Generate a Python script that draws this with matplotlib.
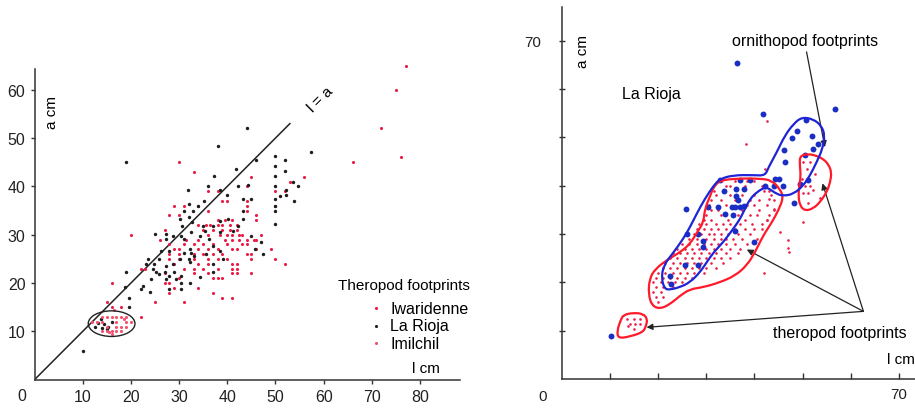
import numpy as np
import matplotlib
matplotlib.use("Agg")
import matplotlib.pyplot as plt
from matplotlib.patches import Ellipse, PathPatch
from matplotlib.path import Path

plt.rcParams['font.family'] = ['Liberation Sans', 'DejaVu Sans']

# --- left panel: footprint length l vs width a (cm) ---
iwar_l = [30, 33, 36, 38, 39, 40, 45, 44, 44, 44, 44, 46, 46, 29, 31, 34, 30, 28, 36, 38, 39.5, 41,
          34, 35.5, 36.5, 38, 39, 40.5, 42, 35, 37, 39, 40.5, 42, 36, 38.5, 40, 41, 42.5, 43, 47,
          31.5, 34, 39.5, 41, 42.5, 44, 45.5, 28, 31, 33, 35, 37, 40, 43, 44, 46,
          29, 30, 34, 36, 38, 41, 42, 46, 49, 28, 30, 33, 35, 37, 39, 44, 45,
          28, 30, 33, 36, 38, 40, 45, 50, 29, 34, 36, 41, 42, 52,
          22, 23, 31, 33, 35, 38, 41, 42, 27, 33, 36, 41, 42, 45, 30, 37, 38, 39,
          16, 27, 28, 34, 29, 28, 37, 39, 41, 25, 31, 15, 16, 18, 22, 20, 26, 27,
          53, 56, 50, 50, 52, 66, 72, 75, 76, 77]
iwar_a = [45, 43, 39, 39, 37, 37, 42, 40, 37, 36, 35, 34, 33, 36, 36, 36, 34, 34, 35, 33, 33, 33,
          32, 32, 32, 32, 32, 32, 32, 31, 31, 31, 31, 31, 30, 30, 30, 30, 30, 30, 30,
          29, 29, 29, 29, 29, 29, 29, 28, 28, 28, 28, 28, 28, 28, 28, 29,
          27, 27, 27, 27, 27, 27, 27, 27, 27, 26, 26, 26, 26, 26, 26, 26, 26,
          25, 25, 25, 25, 25, 25, 25, 25, 24, 24, 24, 24, 24, 24,
          23, 23, 23, 23, 23, 23, 23, 23, 22, 22, 22, 22, 22, 22, 21, 21, 21, 21,
          20, 20, 20, 19, 19, 18, 18, 17, 17, 16, 16, 16, 15, 15, 13, 30, 29, 31,
          41, 42, 39, 36, 39, 45, 52, 60, 46, 65]

rioja_l = [10, 19, 44, 38.1, 57.4, 50, 52, 46, 41.9, 50, 51.9, 50, 37.2, 44.3, 42.2, 31.8, 36.1,
           40, 38.4, 53.6, 54.7, 52.2, 52.1, 50, 50, 50, 50, 53.8, 51, 50, 43.3, 45, 43.3,
           35.1, 34, 32, 32.9, 31.1, 30.1, 32, 32.7, 30.7, 35, 37, 38.4, 40.1, 42.2, 43.3,
           45, 47, 47.4, 45.7, 25, 27.3, 27.3, 28.7, 30.4, 31.1, 32.5, 34.3, 35.3, 36.3,
           38.4, 41.2, 37, 38.4, 35.6, 32.2, 32.5, 32, 32.2, 33.2, 31.1, 30.1, 28.7, 27.3,
           25.9, 24.9, 24.6, 23.5, 23.2, 26.3, 28, 25.3, 25.9, 27, 27.3, 28, 29, 29.4, 30.4,
           30.4, 32.2, 34.3, 37, 37, 39.1, 24.2, 22.5, 22.1, 23.9, 19, 19.7, 19.7, 18.7,
           28, 30.4, 13.2, 14, 14.5, 15.2, 13.8, 16, 15, 12.5]
rioja_a = [6, 45, 52, 48.3, 47.2, 46.3, 45.4, 45.4, 43.6, 44.3, 43.2, 42.2, 42.2, 40.3, 40.1, 39.2,
           40.1, 38.2, 39.3, 41, 40.1, 39.3, 38.2, 40.1, 37.4, 36, 35, 37, 38.1, 32.3, 37.4,
           37.4, 35, 37, 36, 36.3, 35, 35, 33.2, 33.6, 32.6, 31.9, 31.9, 31.9, 32.9, 33.2,
           31.9, 33.2, 29.8, 28.4, 26, 27, 30.1, 30.1, 29.1, 29.8, 29.8, 29.1, 30.5, 29.8,
           30.8, 29.1, 30.5, 30.8, 27.7, 26.7, 26, 27, 26.3, 25, 24.4, 25.7, 26.3, 25, 23.9,
           23.6, 25, 23.9, 22.9, 25, 23.9, 26.7, 26.7, 22.2, 21.9, 22.2, 20.8, 21.5, 22.2,
           20.8, 21.5, 20.1, 20.1, 21.2, 22.2, 23.9, 25, 20.8, 19.4, 18.8, 18.1, 22.2, 17,
           15, 19.1, 18.8, 18.8, 11.8, 10.8, 11.5, 11, 12.5, 12, 10.5, 11]

imil_l = [13, 14, 14, 15, 15, 16, 16, 17, 17, 17, 18, 18, 18, 19, 19, 20, 15, 16, 17, 14, 12, 19,
          16.5, 18.5, 15.5]
imil_a = [12, 10, 12, 10, 11, 13, 10, 10, 11, 13, 10, 11, 13, 12, 11, 12, 13, 9.5, 12, 13, 12, 13,
          14.5, 12.5, 9.8]

# --- right panel: La Rioja, ornithopod vs theropod footprints ---
orni_l = [36.3, 56.7, 41.8, 50.7, 48.9, 47.7, 51.9, 53.2, 52.2, 46.2, 46.3, 50.5, 51.2, 49.4, 48.2,
          45.1, 44.3, 46, 44, 42.2, 39.1, 37, 32.8, 33.7, 36.1, 37.9, 36.2, 36.6, 35.3, 36, 37,
          37.8, 32.5, 30.4, 33.9, 35.6, 25.8, 28.2, 25.9, 29.4, 29.4, 36, 39.8, 25.6, 28.3,
          22.5, 22.6, 10.2]
orni_a = [65.4, 55.8, 54.8, 53.7, 51.4, 49.8, 50.4, 48.7, 47.6, 47.3, 44.9, 46.4, 41.1, 40.4, 36.4,
          41.4, 41.4, 39.9, 40, 39.9, 41.1, 41.1, 41.1, 39, 39.3, 39.3, 37.9, 37.1, 35.7, 35.7,
          35.7, 35.9, 35.5, 35.5, 34.2, 34, 35.1, 30, 30, 28.5, 27.3, 30.7, 28.4, 23.5, 23.5,
          21.4, 19.7, 8.8]

thero_l = [33, 36, 38.5, 40, 34, 35, 38, 41.5, 31.5, 33.5, 42, 43, 32, 35, 37.5, 40, 43.5,
           31, 33, 36, 39, 41, 44, 30.5, 34, 38.5, 40, 42.5, 31, 32.5, 37.5, 41, 44,
           30, 33, 36.5, 39, 40.5, 43, 29.5, 31, 34.5, 38, 42.5,
           28.5, 30, 32, 33.5, 35, 37, 39.5, 41.5, 28, 29.5, 31, 32.5, 34, 36, 38, 40,
           27.5, 29, 30.5, 31.5, 33, 34.5, 36.5, 39, 26.5, 28, 30, 31.5, 33, 34, 35.5, 37.5, 40.5,
           25, 26.5, 28, 29.5, 31, 32.5, 34, 36, 38.5, 24, 25.5, 27, 28.5, 30, 31.5, 33, 35, 37,
           23, 24.5, 26, 27.5, 29, 30.5, 32, 34, 36.5, 22.5, 24, 25.5, 27, 28.5, 30, 31.5, 33, 35,
           21.5, 23, 24.5, 26, 27.5, 29, 31, 33.5, 21, 22.5, 24, 25.5, 27, 28.5, 30, 32,
           20, 21.5, 23, 24.5, 26, 27.5, 29.5, 42, 19.5, 21, 22.5, 24, 25.5, 27,
           19, 20.5, 22, 23.5, 25, 19.5, 21, 23, 19, 20.5, 19.5, 21, 20,
           43, 44, 42.5, 41.5, 45.3, 47, 47.2, 47, 50.1, 42.5, 38.2, 42.2,
           50.1, 51.5, 50.8, 50.5, 51.5, 52.2, 51.2, 50.1, 53.6, 49.8, 52.5, 51,
           13.5, 14.9, 16.2, 14.2, 15.2, 16.2, 14.9, 13.8]
thero_a = [41, 41, 41, 41, 40, 40, 40, 40, 39, 39, 39, 39, 38, 38, 38, 38, 38,
           37, 37, 37, 37, 37, 37, 36, 36, 36, 36, 36, 35, 35, 35, 35, 35,
           34, 34, 34, 34, 34, 34, 33, 33, 33, 33, 33,
           32, 32, 32, 32, 32, 32, 32, 32, 31, 31, 31, 31, 31, 31, 31, 31,
           30, 30, 30, 30, 30, 30, 30, 30, 29, 29, 29, 29, 29, 29, 29, 29, 29,
           28, 28, 28, 28, 28, 28, 28, 28, 28, 27, 27, 27, 27, 27, 27, 27, 27, 27,
           26, 26, 26, 26, 26, 26, 26, 26, 26, 25, 25, 25, 25, 25, 25, 25, 25, 25,
           24, 24, 24, 24, 24, 24, 24, 24, 23, 23, 23, 23, 23, 23, 23, 23,
           22, 22, 22, 22, 22, 22, 22, 22, 21, 21, 21, 21, 21, 21,
           20, 20, 20, 20, 20, 19, 19, 19, 18, 18, 17, 17, 16,
           37.3, 35.2, 33, 31, 30.4, 28.7, 26.3, 27.1, 32.4, 53.5, 48.7, 43.5,
           44.9, 44.9, 43.5, 39.9, 39.9, 39.2, 38.5, 38.5, 37.5, 41.4, 42.5, 36.5,
           12.4, 12.4, 12.4, 11.4, 11.4, 11.4, 10.3, 11]

# hand-drawn outlines of the footprint groups (l, a)
thero_main_outline = [(32.8, 41.1), (36.3, 41.5), (41.1, 41.5), (43.6, 41.1), (45.3, 39.3), (46.0, 37.6),
                      (45.1, 35.2), (43.6, 32.4), (41.8, 29.7), (40.1, 26.2), (38.4, 23.5), (36.0, 21.4),
                      (32.8, 20.0), (29.4, 19.0), (26.6, 18.6), (24.5, 17.2), (22.5, 15.5), (20.4, 14.5),
                      (18.7, 15.2), (18.0, 17.6), (18.2, 20.7), (19.4, 22.8), (22.1, 24.8), (24.5, 26.2),
                      (26.6, 27.9), (28.3, 30.7), (29.4, 32.4), (29.7, 35.2), (30.8, 37.9), (31.5, 39.7)]
thero_right_outline = [(49.4, 46.2), (51.2, 46.6), (52.9, 46.2), (54.3, 45.5), (55.3, 44.5), (56.0, 42.8),
                       (55.7, 40.7), (55.0, 38.7), (53.6, 36.6), (52.2, 35.3), (50.5, 34.8), (49.4, 35.9),
                       (49.1, 38.0), (49.3, 40.0), (49.6, 42.1), (49.4, 44.2)]
thero_small_outline = [(12.8, 13.3), (14.9, 13.7), (16.9, 13.5), (17.8, 12.4), (17.5, 11.0), (16.9, 9.7),
                       (14.2, 8.8), (11.7, 8.4), (11.5, 10.0), (12.2, 12.1)]
orni_outline = [(21.4, 18.6), (20.7, 20.7), (21.1, 23.5), (23.2, 26.2), (25.2, 29.0), (26.6, 31.4),
                (28.0, 34.2), (29.7, 37.3), (31.5, 40.0), (32.8, 41.4), (35.6, 42.2), (39.8, 42.2),
                (42.2, 42.1), (42.9, 43.8), (44.6, 46.9), (46.3, 50.4), (48.1, 52.8), (49.8, 54.2),
                (52.2, 53.8), (53.9, 52.4), (54.6, 50.4), (54.1, 47.6), (52.9, 44.9), (51.5, 42.1),
                (50.1, 40.0), (48.1, 38.3), (46.0, 37.9), (44.6, 38.3), (43.2, 39.3), (42.2, 39.7),
                (40.5, 38.7), (39.1, 37.3), (38.0, 35.2), (37.0, 33.1), (35.6, 31.1), (33.5, 28.3),
                (31.5, 26.2), (30.1, 24.2), (28.7, 22.1), (26.6, 20.0), (24.5, 19.0), (22.5, 18.5)]

RED = '#ea1c45'
PINK = '#f2506e'
BLUE = '#1a2ec4'


def smooth_outline(pts):
    # closed quadratic-bezier path: outline vertices act as control points
    p = np.asarray(pts, dtype=float)
    mids = (p + np.roll(p, -1, axis=0)) / 2
    verts = [mids[-1]]
    codes = [Path.MOVETO]
    for i in range(len(p)):
        verts += [p[i], mids[i]]
        codes += [Path.CURVE3, Path.CURVE3]
    return Path(verts, codes)


fig = plt.figure(figsize=(9.15, 4.1), dpi=100)

# ---------------- left panel ----------------
ax1 = fig.add_axes([34.5 / 915, 29.3 / 410, 425.5 / 915, 310.7 / 410])
ax1.set_xlim(0, 88.3)
ax1.set_ylim(0, 64.3)
for s in ['top', 'right']:
    ax1.spines[s].set_visible(False)
for s in ['left', 'bottom']:
    ax1.spines[s].set_linewidth(1.1)
    ax1.spines[s].set_color('#333333')

ax1.plot([0, 53], [0, 53], color='#222222', lw=1.1)
ax1.scatter(iwar_l, iwar_a, s=5, color=RED, lw=0, zorder=3, clip_on=False)
ax1.scatter(rioja_l, rioja_a, s=6, color='#1e1e1e', lw=0, zorder=3, clip_on=False)
ax1.scatter(imil_l, imil_a, s=5, color=PINK, lw=0, zorder=3, clip_on=False)
ax1.add_patch(Ellipse((16, 11.6), 9.7, 5.3, fill=False, ec='#222222', lw=1.0, zorder=4))

ax1.set_xticks([10, 20, 30, 40, 50, 60, 70, 80])
ax1.set_yticks([10, 20, 30, 40, 50, 60])
ax1.tick_params(labelsize=11.5, length=3, width=1, colors='#333333', labelcolor='#222222')
ax1.text(-2.6, -3.2, '0', fontsize=11.5, ha='center', va='center', color='#222222', clip_on=False)
ax1.text(3.6, 55.6, 'a cm', rotation=90, fontsize=11, ha='center', va='center')
ax1.text(81.2, 2.4, 'l cm', fontsize=11, ha='center', va='center')
ax1.text(59.4, 58.2, 'l = a', rotation=45, fontsize=11, ha='center', va='center')

ax1.text(63.0, 19.5, 'Theropod footprints', fontsize=11, ha='left', va='center', clip_on=False)
legend_rows = [('Iwaridenne', RED, 14.8), ('La Rioja', '#1e1e1e', 11.2), ('Imilchil', PINK, 7.5)]
for name, col, yy in legend_rows:
    ax1.scatter([70.8], [yy], s=5, color=col, lw=0)
    ax1.text(73.8, yy, name, fontsize=11.5, ha='left', va='center', clip_on=False)

# ---------------- right panel ----------------
ax2 = fig.add_axes([561.7 / 915, 30 / 410, 353.3 / 915, 372 / 410])
ax2.set_xlim(0, 73.3)
ax2.set_ylim(0, 77.0)
for s in ['top', 'right']:
    ax2.spines[s].set_visible(False)
for s in ['left', 'bottom']:
    ax2.spines[s].set_linewidth(1.1)
    ax2.spines[s].set_color('#333333')

ax2.scatter(thero_l, thero_a, s=3.5, color=RED, lw=0, zorder=3)
ax2.scatter(orni_l, orni_a, s=18, color=BLUE, lw=0, zorder=4)
for outline in (thero_main_outline, thero_right_outline, thero_small_outline):
    ax2.add_patch(PathPatch(smooth_outline(outline), fill=False, ec='#ff1a2a', lw=1.6, zorder=5))
ax2.add_patch(PathPatch(smooth_outline(orni_outline), fill=False, ec='#1f24d6', lw=1.6, zorder=5))

ax2.set_xticks([10, 20, 30, 40, 50, 60, 70])
ax2.set_xticklabels(['', '', '', '', '', '', '70'])
ax2.set_yticks([10, 20, 30, 40, 50, 60, 70])
ax2.set_yticklabels(['', '', '', '', '', '', '70'])
ax2.tick_params(axis='x', direction='in', length=4, width=1, labelsize=11, pad=6, colors='#333333',
                labelcolor='#222222')
ax2.tick_params(axis='y', direction='inout', length=5, width=1, labelsize=11, pad=12,
                colors='#333333', labelcolor='#222222')
ax2.text(-3.9, -3.6, '0', fontsize=11, ha='center', va='center', color='#222222', clip_on=False)
ax2.text(4.4, 67.9, 'a cm', rotation=90, fontsize=11, ha='center', va='center')
ax2.text(67.5, 4.1, 'l cm', fontsize=11, ha='left', va='center', clip_on=False)
ax2.text(12.5, 59.0, 'La Rioja', fontsize=11.5, ha='left', va='center')

arrow = dict(arrowstyle='-|>', lw=0.9, color='#222222', mutation_scale=9, shrinkA=0, shrinkB=0)
ax2.text(35.3, 70.0, 'ornithopod footprints', fontsize=11.5, ha='left', va='center')
ax2.annotate('', xy=(54.6, 48.0), xytext=(50.8, 67.7), arrowprops=arrow)
ax2.text(43.8, 9.7, 'theropod footprints', fontsize=11.5, ha='left', va='center', clip_on=False)
for tip in [(38.4, 26.8), (54.1, 40.5), (17.6, 10.7)]:
    ax2.annotate('', xy=tip, xytext=(62.6, 14.0), arrowprops=arrow)

fig.savefig('out.png', dpi=100)
